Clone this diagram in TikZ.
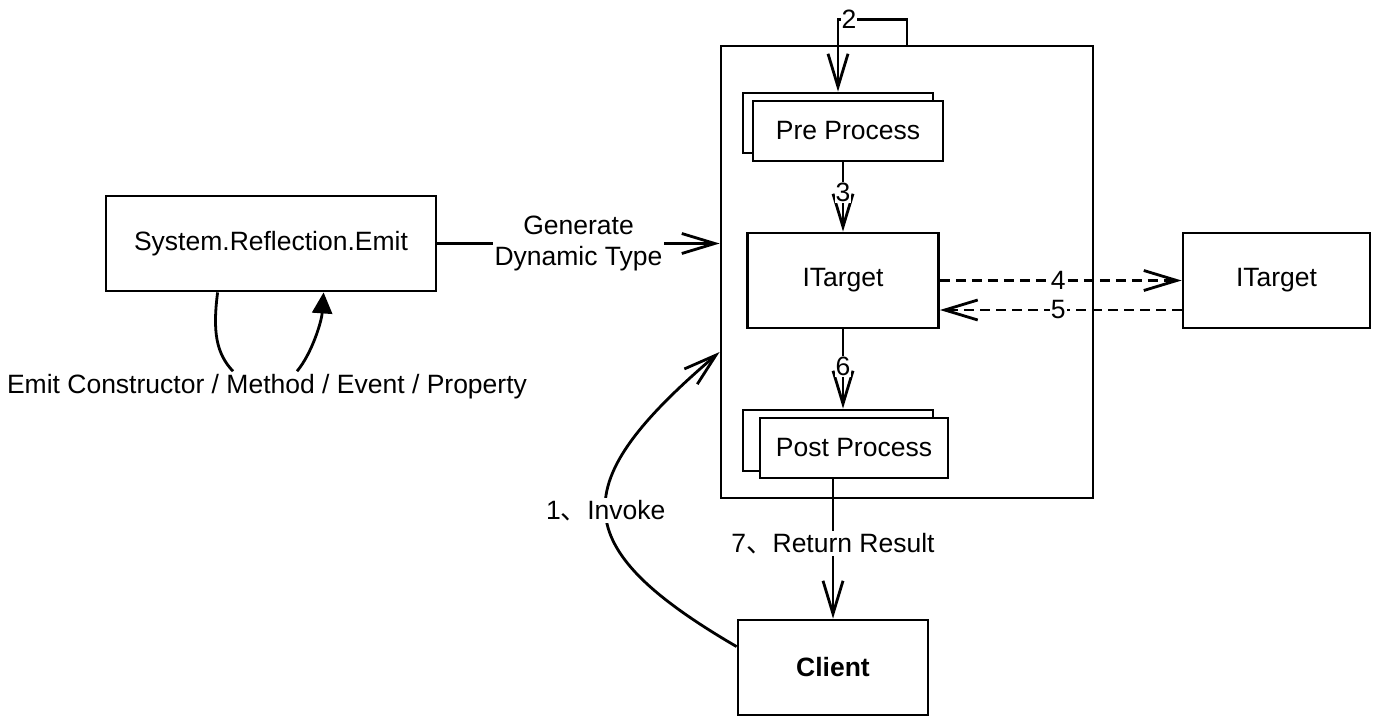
\documentclass[tikz,border=0pt]{standalone}
\usepackage{fontspec}
\setmainfont{Liberation Sans}
\newfontfamily\cjk{Noto Sans CJK SC}
\usetikzlibrary{arrows.meta,calc}
\begin{document}
\begin{tikzpicture}[x=0.5pt,y=-0.5pt, line width=1.4pt,
  font=\fontsize{13.25pt}{15.5pt}\selectfont,
  box/.style={draw, fill=white, inner sep=0pt, align=center},
  arr/.style={-{Straight Barb[length=16.5pt,width=10pt]}},
  lbl/.style={fill=white, inner sep=1pt, align=center},
  dsh/.style={dash pattern=on 5pt off 3pt}]
\useasboundingbox (0,0) rectangle (1396,717);

% nodes
\node[box, minimum width=165pt, minimum height=47.5pt] (emit) at (271,243.5) {System.Reflection.Emit};
\node[draw, inner sep=0pt, minimum width=186pt, minimum height=226pt] (cont) at (907,272) {};
\node[box, minimum width=95pt, minimum height=30pt] (preback) at (838,123) {};
\node[box, minimum width=95pt, minimum height=30pt] (prefront) at (848,131) {Pre Process};
\node[box, minimum width=95.5pt, minimum height=47.5pt] (itgt) at (843,280.5) {ITarget};
\node[box, minimum width=93.5pt, minimum height=47.5pt] (itgt2) at (1276.5,280.5) {ITarget};
\node[box, minimum width=95pt, minimum height=30.5pt] (postback) at (838,440.5) {};
\node[box, minimum width=94pt, minimum height=30pt] (postfront) at (854,448) {Post Process};
\node[box, minimum width=95pt, minimum height=47.5pt, font=\fontsize{13.25pt}{15.5pt}\selectfont\bfseries] (client) at (833,667.5) {Client};
\node[inner sep=1pt] (emitlbl) at (267,387) {Emit Constructor / Method / Event / Property};

% emit self loop
\coordinate (l1) at ($(emit.south west)+(113,0)$);
\coordinate (r2) at ($(emit.south west)+(219,0)$);
\coordinate (l2) at ($(emitlbl.north)+(-34,0)$);
\coordinate (r1) at ($(emitlbl.north)+(30,0)$);
\draw (l1) .. controls ($(l1)+(-5,39)$) and ($(l2)+(-17,-18)$) .. (l2);
\draw[-{Triangle[length=10.5pt,width=10pt]}] (r1) .. controls ($(r1)+(15,-18)$) and ($(r2)+(-2,29)$) .. (r2);

% generate dynamic type
\draw[arr] (emit.east) -- node[lbl]{Generate\\Dynamic Type} (emit.east -| cont.west);

% 1 invoke
\coordinate (c1) at ($(client.north west)+(0,28)$);
\coordinate (c2) at ($(cont.west)+(0,80)$);
\draw[arr] (c1) .. controls (564,546) and (566,483) .. node[lbl, pos=0.5]{1{\cjk 、}Invoke} (c2);

% 2 loop
\draw[arr] (cont.north) -- ++(0,-25) -| node[lbl, pos=0.42, inner sep=0.5pt]{2} (preback.north);

% 3
\draw[arr] (prefront.south -| itgt.north) -- node[lbl, pos=0.43, inner sep=0.5pt]{3} (itgt.north);

% 4 and 5
\draw[arr,dsh] (itgt.east) -- node[lbl, pos=0.49, inner sep=0.5pt]{4} (itgt2.west);
\draw[arr,dsh] ([yshift=-14.75pt]itgt2.west) -- node[lbl, pos=0.51, inner sep=0.5pt]{5} ([yshift=-14.75pt]itgt.east);

% 6
\draw[arr] (itgt.south) -- node[lbl, pos=0.47, inner sep=0.5pt]{6} (itgt.south |- postback.north);

% 7 return result
\draw[arr] (postfront.south -| client.north) -- node[lbl, pos=0.46]{7{\cjk 、}Return Result} (client.north);
\end{tikzpicture}
\end{document}
